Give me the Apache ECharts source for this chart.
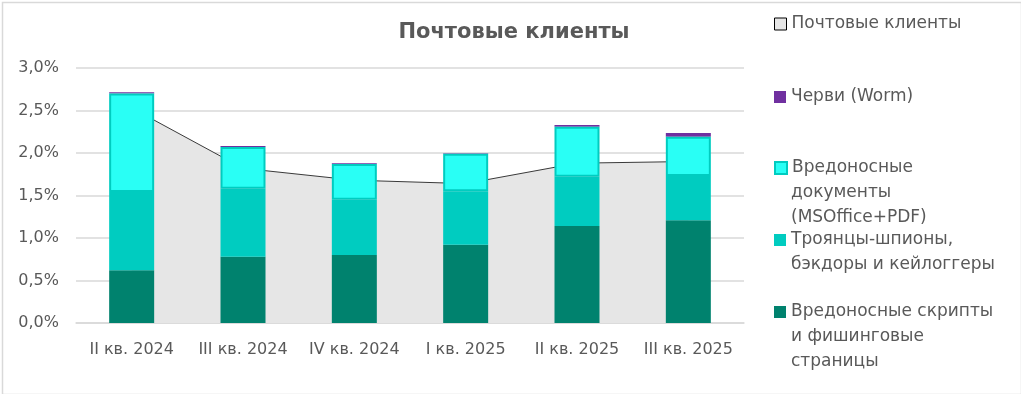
<!DOCTYPE html>
<html><head><meta charset="utf-8">
<script src="https://cdn.jsdelivr.net/npm/echarts@6/dist/echarts.min.js"></script>
<style>html,body{margin:0;padding:0;background:#fff}#c{width:1021px;height:394px}</style>
</head><body><div id="c"></div>
<script>
const categories = ['II кв. 2024','III кв. 2024','IV кв. 2024','I кв. 2025','II кв. 2025','III кв. 2025'];
const mailClients = [2.53, 1.82, 1.68, 1.64, 1.88, 1.90];
const scripts = [0.62, 0.78, 0.80, 0.92, 1.14, 1.21];
const trojans = [0.92, 0.80, 0.65, 0.63, 0.58, 0.52];
const docs = [1.16, 0.49, 0.42, 0.44, 0.59, 0.46];
const worms = [0.015, 0.012, 0.008, 0.008, 0.02, 0.045];
const yTicks = {min: 0, max: 3.0, interval: 0.5};

const names = {
  mail: 'Почтовые клиенты',
  worm: 'Черви (Worm)',
  docs: 'Вредоносные\nдокументы\n(MSOffice+PDF)',
  troj: 'Троянцы-шпионы,\nбэкдоры и кейлоггеры',
  scr: 'Вредоносные скрипты\nи фишинговые\nстраницы'
};
const txt = '#595959';
const FONT = 'DejaVu Sans';
const LH = 25;
const LFS = 17;

const legendDefs = [
  [names.mail, 24, {color: '#e6e6e6', borderColor: '#000', borderWidth: 1}],
  [names.worm, 97, {color: '#7030a0'}],
  [names.docs, 168, {color: '#29fff5', borderColor: '#00ccc0', borderWidth: 2}],
  [names.troj, 240, {color: '#00ccc0'}],
  [names.scr, 312, {color: '#00826e'}]
];

function mkLegend(name, iconCenter, itemStyle) {
  return {
    left: 774,
    top: iconCenter - 10,
    padding: 0,
    orient: 'vertical',
    icon: 'rect',
    itemWidth: 12, itemHeight: 12,
    selectedMode: false,
    formatter: nm => nm.split('\n')[0],
    textStyle: {color: txt, fontSize: LFS, fontFamily: FONT, lineHeight: 20},
    data: [{name: name, itemStyle: itemStyle}]
  };
}

const extraLines = [];
legendDefs.forEach(([name, c]) => {
  name.split('\n').slice(1).forEach((line, i) => {
    extraLines.push({
      type: 'text', x: 791, y: c + (i + 1) * LH, silent: true,
      style: {text: line, fill: txt, font: LFS + 'px "' + FONT + '"', verticalAlign: 'middle', align: 'left'}
    });
  });
});

const chart = echarts.init(document.getElementById('c'));
chart.setOption({
  animation: false,
  backgroundColor: '#fff',
  title: {
    text: 'Почтовые клиенты', left: 509, top: 17, textAlign: 'center',
    textStyle: {color: txt, fontSize: 21, fontWeight: 'bold', fontFamily: FONT}
  },
  graphic: [{
    type: 'rect', left: 0, top: 0, silent: true,
    shape: {x: 0, y: 0, width: 1019, height: 392},
    style: {fill: 'none', stroke: '#d9d9d9', lineWidth: 1.5}
  }].concat(extraLines),
  legend: legendDefs.map(d => mkLegend(d[0], d[1], d[2])),
  grid: {left: 76, right: 277, top: 68, bottom: 71},
  xAxis: {
    type: 'category', data: categories,
    axisLine: {lineStyle: {color: '#d9d9d9', width: 1.5}},
    axisTick: {show: false},
    axisLabel: {color: txt, fontSize: 16, fontFamily: FONT, margin: 19, interval: 0}
  },
  yAxis: {
    type: 'value', min: yTicks.min, max: yTicks.max, interval: yTicks.interval,
    axisLine: {show: false}, axisTick: {show: false},
    splitLine: {lineStyle: {color: '#d9d9d9', width: 1.5}},
    axisLabel: {color: txt, fontSize: 16, fontFamily: FONT, margin: 17,
      formatter: v => v.toFixed(1).replace('.', ',') + '%'}
  },
  series: [
    {name: names.mail, type: 'line', data: mailClients, symbol: 'none', z: 1,
      itemStyle: {color: '#e6e6e6'},
      lineStyle: {color: '#3a3a3a', width: 1},
      areaStyle: {color: '#e6e6e6', opacity: 1}},
    {name: names.scr, type: 'bar', stack: 's', data: scripts, barWidth: 45, z: 3,
      itemStyle: {color: '#00826e'}},
    {name: names.troj, type: 'bar', stack: 's', data: trojans, barWidth: 45, z: 3,
      itemStyle: {color: '#00ccc0'}},
    {name: names.docs, type: 'bar', stack: 's', data: docs, barWidth: 45, z: 4,
      itemStyle: {color: '#29fff5', borderColor: '#00ccc0', borderWidth: 2}},
    {name: names.worm, type: 'bar', stack: 's', data: worms, barWidth: 45, z: 3,
      itemStyle: {color: '#7030a0'}}
  ]
});
</script>
</body></html>
